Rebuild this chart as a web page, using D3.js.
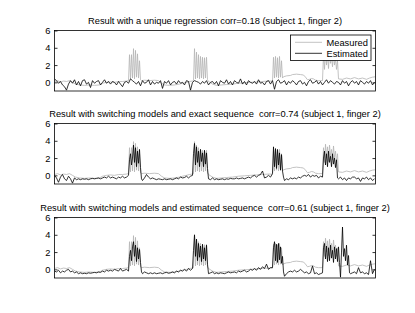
<!DOCTYPE html>
<html>
<head>
<meta charset="utf-8">
<script src="https://cdn.jsdelivr.net/npm/d3@7"></script>
<style>
  body { margin: 0; background: #fff; }
  svg { display: block; }
  text { white-space: pre; }
</style>
</head>
<body>
<div id="chart"></div>
<script>
// Measured signal (same in all three panels): [sample, value]
const measured = [
  [0,0.1],[3,0.2],[6,0.05],[9,0.15],[12,0.1],[15,0.2],[18,0.0],[21,-0.2],[25,-0.3],[30,-0.35],
  [35,-0.3],[40,-0.35],[45,-0.3],[48,-0.1],[52,0.0],[56,0.05],[60,0.0],[64,0.1],[68,0.1],[72,0.15],[74,0.2],
  [75,3.2],[76,0.4],[77,3.2],[78,0.5],[79,3.9],[80,0.4],[81,3.7],[82,0.6],[83,3.3],[84,0.5],[85,2.5],[86,0.3],
  [87,0.2],[90,0.25],[95,0.2],[100,0.25],[104,0.2],[107,-0.1],[110,-0.3],[115,-0.35],[120,-0.3],[125,-0.2],
  [128,-0.1],[132,0.0],[135,0.1],[138,0.15],[139,0.2],
  [140,3.9],[141,0.4],[142,3.5],[143,0.5],[144,3.2],[145,0.4],[146,3.0],[147,0.5],[148,2.9],[149,0.4],
  [150,2.85],[151,0.5],[152,2.9],[153,0.3],
  [154,0.1],[158,-0.2],[162,-0.35],[167,-0.3],[172,-0.25],[178,-0.2],[184,-0.1],[190,-0.05],[196,0.0],
  [202,0.05],[208,0.1],[214,0.15],[218,0.15],
  [219,2.9],[220,0.5],[221,3.0],[222,0.6],[223,2.85],[224,0.5],[225,3.0],[226,0.6],[227,2.5],[228,0.5],
  [229,0.65],[232,0.75],[236,0.8],[238,0.9],[242,0.95],[246,0.9],[249,0.85],[251,0.6],[253,0.3],[255,0.35],
  [257,0.45],[259,0.4],[261,0.25],[264,0.2],[268,0.2],
  [269,3.2],[270,1.5],[271,3.6],[272,2.0],[273,3.3],[274,1.6],[275,3.5],[276,2.2],[277,3.0],[278,1.8],
  [279,3.4],[280,2.0],[281,2.8],[282,1.5],[283,2.5],
  [284,0.4],[288,0.35],[292,0.5],[296,0.4],[300,0.55],[304,0.4],[308,0.5],[312,0.35],[315,0.5],[318,0.6],[321,0.65]
];

// Unique regression estimate, one value every 2 samples (t = 0, 2, ..., 320)
const estUnique = [
  0.4,0.2,-0.1,0.1,-0.3,-0.5,-0.9,-0.2,0.2,-0.1,
  0.3,-0.3,0.1,-0.4,0.2,0.3,-0.2,0.0,-0.6,0.2,
  -0.1,0.1,0.2,-0.3,0.0,0.3,-0.1,0.1,-0.2,0.1,
  0.0,-0.3,0.1,-0.2,-0.5,0.0,0.1,-0.1,0.4,0.2,
  0.0,-0.2,0.1,-0.4,0.2,-0.1,0.0,0.3,-0.3,0.1,
  -0.2,0.0,-0.1,0.2,-0.7,0.1,-0.1,0.2,-0.3,0.0,
  0.1,-0.2,0.2,-0.1,0.0,-0.3,0.2,0.1,-0.9,0.0,
  0.2,0.1,0.0,-0.2,0.1,-0.1,0.2,-0.3,0.0,0.1,
  -0.2,0.1,-0.4,0.2,0.0,-0.1,0.3,-0.2,0.1,-0.3,
  0.2,0.0,-0.1,0.4,-0.2,0.1,-0.3,0.2,0.0,-0.1,
  0.1,-0.2,0.3,-0.1,0.0,-0.3,0.1,0.2,-0.2,0.2,
  -0.8,0.1,0.3,-0.1,0.0,0.2,-0.3,0.1,-0.1,0.2,
  0.0,-0.3,0.1,0.2,-0.2,0.0,-0.4,0.1,0.3,-0.1,
  0.0,0.2,-0.2,0.1,-0.3,0.0,0.3,-0.1,0.2,0.0,
  -0.2,0.1,0.0,-0.3,0.2,-0.1,0.1,-0.4,0.0,0.2,
  -0.1,0.1,-0.3,0.2,0.0,-0.2,0.1,-0.1,0.2,-0.3,
  0.0
];
const estStep = 2;

// Switching models, exact sequence: [sample, value]
const estExact = [
  [0,0.0],[2,-0.3],[4,-0.8],[6,-0.2],[8,0.1],[10,-0.4],[12,-0.6],[14,-0.1],[16,-0.4],[18,-0.9],
  [20,-0.3],[22,-0.5],[24,-0.4],[26,-0.5],[28,-0.4],[30,-0.45],[32,-0.4],[34,-0.5],[36,-0.4],[38,-0.35],
  [40,-0.4],[42,-0.35],[44,-0.3],[46,-0.4],[48,-0.3],[50,-0.2],[52,-0.3],[54,-0.1],[56,-0.3],[58,-0.2],
  [60,-0.3],[62,-0.4],[64,-0.2],[66,-0.3],[68,-0.1],[70,-0.3],[72,-0.2],
  [74,0.0],[75,1.8],[76,2.5],[77,1.2],[78,2.0],[79,3.5],[80,1.5],[81,3.2],[82,1.0],[83,2.8],[84,1.4],
  [85,3.0],[86,0.9],[87,-0.4],[88,-0.6],
  [90,-0.3],[92,0.1],[94,-0.2],[96,-0.4],[98,-0.3],
  [100,-0.4],[102,-0.5],[104,-0.4],[106,-0.45],[108,-0.5],[110,-0.4],[112,-0.5],[114,-0.45],[116,-0.4],[118,-0.5],
  [120,-0.4],[122,-0.3],[124,-0.4],[126,-0.2],[128,-0.3],[130,-0.25],[132,-0.1],[134,-0.3],[136,-0.1],
  [138,0.0],[139,2.5],[140,3.7],[141,1.2],[142,3.3],[143,1.5],[144,2.8],[145,1.0],[146,3.0],[147,1.6],
  [148,2.6],[149,1.0],[150,2.9],[151,1.3],[152,2.6],[153,0.8],[154,-0.4],
  [156,-0.5],[158,-0.3],
  [160,-0.5],[162,-0.4],[164,-0.5],[166,-0.45],[168,-0.4],[170,-0.5],[172,-0.4],[174,-0.45],[176,-0.35],[178,-0.4],
  [180,-0.4],[182,-0.3],[184,-0.4],[186,-0.35],[188,-0.3],[190,-0.4],[192,-0.3],[194,-0.2],[196,-0.3],[198,-0.1],
  [200,0.0],[202,-0.2],[204,0.0],[206,0.1],[208,0.5],[210,-0.3],[212,-0.2],[214,0.0],[216,-0.2],
  [218,0.2],[219,3.3],[220,1.0],[221,3.1],[222,0.8],[223,3.0],[224,1.2],[225,2.6],[226,0.6],[227,2.4],
  [228,0.5],[229,-0.2],[230,-0.6],
  [232,-0.4],[234,-0.5],[236,-0.3],[238,-0.4],
  [240,-0.3],[242,-0.4],[244,-0.2],[246,-0.3],[248,-0.1],[250,0.0],[252,-0.1],[254,0.1],[256,-0.2],[258,0.0],
  [260,-0.1],[262,0.0],[264,-0.3],[266,-0.1],
  [268,-0.2],[269,2.0],[270,2.8],[271,1.2],[272,2.5],[273,1.0],[274,2.8],[275,1.5],[276,2.2],[277,1.0],
  [278,2.5],[279,1.3],[280,2.0],[281,0.9],[282,1.8],[283,-0.3],
  [284,-0.4],[286,-0.2],[288,-0.5],[290,-0.3],[292,-0.6],[294,-0.3],[296,-0.4],[298,-0.2],
  [300,-0.2],[302,-0.4],[304,-0.3],[306,-0.7],[308,-0.3],[310,-0.4],[312,-0.2],[314,-0.5],[316,-0.3],[318,-0.6],
  [320,-0.4]
];

// Switching models, estimated sequence: [sample, value]
const estSequence = [
  [0,-0.2],[2,-0.3],[4,-0.1],[6,-0.4],[8,-0.2],[10,-0.3],[12,-0.1],[14,0.0],[16,-0.3],[18,-0.2],
  [20,-0.4],[22,-0.3],[24,-0.5],[26,-0.4],[28,-0.5],[30,-0.45],[32,-0.5],[34,-0.4],[36,-0.45],[38,-0.4],
  [40,-0.35],[42,-0.4],[44,-0.3],[46,-0.35],[48,-0.2],[50,-0.3],[52,-0.1],[54,-0.2],[56,-0.1],[58,-0.2],
  [60,0.0],[62,-0.1],[64,-0.2],[66,0.1],[68,-0.2],[70,-0.1],[72,0.0],
  [74,-0.2],[75,1.5],[76,2.2],[77,1.0],[78,2.6],[79,3.2],[80,1.5],[81,2.8],[82,0.9],[83,2.5],[84,1.2],
  [85,2.3],[86,0.8],[87,-0.3],
  [88,-0.5],[90,-0.3],[92,-0.4],[94,-0.5],[96,-0.4],[98,-0.5],
  [100,-0.4],[102,-0.5],[104,-0.45],[106,-0.4],[108,-0.5],[110,-0.4],[112,-0.35],[114,-0.45],[116,-0.4],[118,-0.3],
  [120,-0.4],[122,-0.2],[124,-0.3],[126,-0.1],[128,-0.2],[130,0.0],[132,-0.2],[134,0.1],[136,-0.1],
  [138,0.1],[139,2.2],[140,4.0],[141,1.5],[142,3.5],[143,1.0],[144,3.0],[145,1.4],[146,2.7],[147,0.9],
  [148,2.9],[149,1.2],[150,2.5],[151,1.0],[152,2.8],[153,0.6],[154,-0.5],
  [156,-0.4],[158,-0.3],
  [160,-0.5],[162,-0.4],[164,-0.5],[166,-0.4],[168,-0.45],[170,-0.5],[172,-0.4],[174,-0.3],[176,-0.4],[178,-0.35],
  [180,-0.3],[182,-0.4],[184,-0.2],[186,-0.3],[188,-0.2],[190,-0.1],[192,-0.3],[194,-0.2],[196,0.0],[198,-0.1],
  [200,0.1],[202,-0.1],[204,0.2],[206,0.0],[208,0.3],[210,0.1],[212,0.6],[214,0.0],[216,0.2],
  [218,0.2],[219,2.5],[220,3.2],[221,1.0],[222,2.9],[223,0.8],[224,3.0],[225,1.1],[226,2.6],[227,0.7],
  [228,1.5],[229,-0.3],[230,-0.8],
  [232,-0.5],[234,-0.3],[236,-0.2],[238,-0.3],
  [240,-0.1],[242,-0.3],[244,-0.2],[246,0.0],[248,-0.2],[250,-0.4],[252,-0.3],[254,-0.5],[256,-0.4],[258,0.4],
  [260,-0.5],[262,-0.4],[264,-0.6],[266,-0.5],
  [268,-0.4],[269,2.5],[270,3.0],[271,1.2],[272,2.7],[273,0.9],[274,2.5],[275,1.0],[276,2.8],[277,1.3],
  [278,2.2],[279,0.8],[280,2.6],[281,1.2],[282,2.4],[283,0.9],[284,2.6],[285,0.8],[286,-0.9],[287,2.0],
  [288,4.9],[289,1.5],[290,2.4],[291,1.0],[292,2.8],[293,0.5],[294,1.6],[295,-0.4],
  [296,-0.5],[298,-0.4],
  [300,-0.3],[302,-0.5],[304,0.2],[306,-0.4],[308,-0.3],[310,-0.5],[312,-0.4],[314,-0.6],[316,1.0],[318,-0.5],
  [320,0.0]
];

const titles = [
  'Result with a unique regression corr=0.18 (subject 1, finger 2)',
  'Result with switching models and exact sequence  corr=0.74 (subject 1, finger 2)',
  'Result with switching models and estimated sequence  corr=0.61 (subject 1, finger 2)'
];
const estimates = [estUnique.map((v, i) => [i * estStep, v]), estExact, estSequence];
const yTicks = [0, 2, 4, 6];
const legendLabels = ['Measured', 'Estimated'];

const width = 415, height = 313;
const axLeft = 54.5, axRight = 375.5, axHeight = 60.5;
const axTops = [30.5, 123.5, 217.5];
const font = '"Liberation Sans", Arial, Helvetica, sans-serif';
const fs = 9.3;
const grey = '#b4b4b4';

const svg = d3.select('#chart').append('svg')
  .attr('width', width).attr('height', height);

const x = d3.scaleLinear().domain([0, 321]).range([axLeft, axRight]);

axTops.forEach((top, k) => {
  const y = d3.scaleLinear().domain([-1, 6]).range([top + axHeight, top]);
  const g = svg.append('g');

  g.append('clipPath').attr('id', 'clip' + k)
    .append('rect')
    .attr('x', axLeft).attr('y', top)
    .attr('width', axRight - axLeft).attr('height', axHeight);

  const line = d3.line().x(d => x(d[0])).y(d => y(d[1]));

  const plot = g.append('g').attr('clip-path', `url(#clip${k})`);
  plot.append('path').datum(measured)
    .attr('d', line).attr('fill', 'none')
    .attr('stroke', grey).attr('stroke-width', 0.8);
  plot.append('path').datum(estimates[k])
    .attr('d', line).attr('fill', 'none')
    .attr('stroke', '#000').attr('stroke-width', 0.8);

  // box
  g.append('rect')
    .attr('x', axLeft).attr('y', top)
    .attr('width', axRight - axLeft).attr('height', axHeight)
    .attr('fill', 'none').attr('stroke', '#000').attr('stroke-width', 0.8);

  // y ticks, inward on both sides
  const left = d3.axisLeft(y).tickValues(yTicks).tickSize(-3).tickPadding(4).tickFormat(d3.format('d'));
  g.append('g').attr('transform', `translate(${axLeft},0)`).call(left)
    .call(ax => {
      ax.select('.domain').remove();
      ax.selectAll('line').attr('stroke', '#000').attr('stroke-width', 0.8);
      ax.selectAll('text').attr('font-family', font).attr('font-size', fs).attr('fill', '#000');
    });
  const right = d3.axisRight(y).tickValues(yTicks).tickSize(-3).tickFormat('');
  g.append('g').attr('transform', `translate(${axRight},0)`).call(right)
    .call(ax => {
      ax.select('.domain').remove();
      ax.selectAll('line').attr('stroke', '#000').attr('stroke-width', 0.8);
    });

  g.append('text')
    .attr('x', (axLeft + axRight) / 2).attr('y', top - 6.5)
    .attr('text-anchor', 'middle')
    .attr('font-family', font).attr('font-size', fs)
    .text(titles[k]);
});

// legend in first panel
const lg = svg.append('g');
lg.append('rect')
  .attr('x', 290.5).attr('y', 35).attr('width', 80.5).attr('height', 25.5)
  .attr('fill', '#fff').attr('stroke', '#000').attr('stroke-width', 0.8);
legendLabels.forEach((lab, i) => {
  const ly = 42.3 + i * 11;
  lg.append('line')
    .attr('x1', 295).attr('x2', 322).attr('y1', ly).attr('y2', ly)
    .attr('stroke', i === 0 ? grey : '#000').attr('stroke-width', 0.8);
  lg.append('text')
    .attr('x', 326.5).attr('y', ly + 3.3)
    .attr('font-family', font).attr('font-size', fs)
    .text(lab);
});
</script>
</body>
</html>
